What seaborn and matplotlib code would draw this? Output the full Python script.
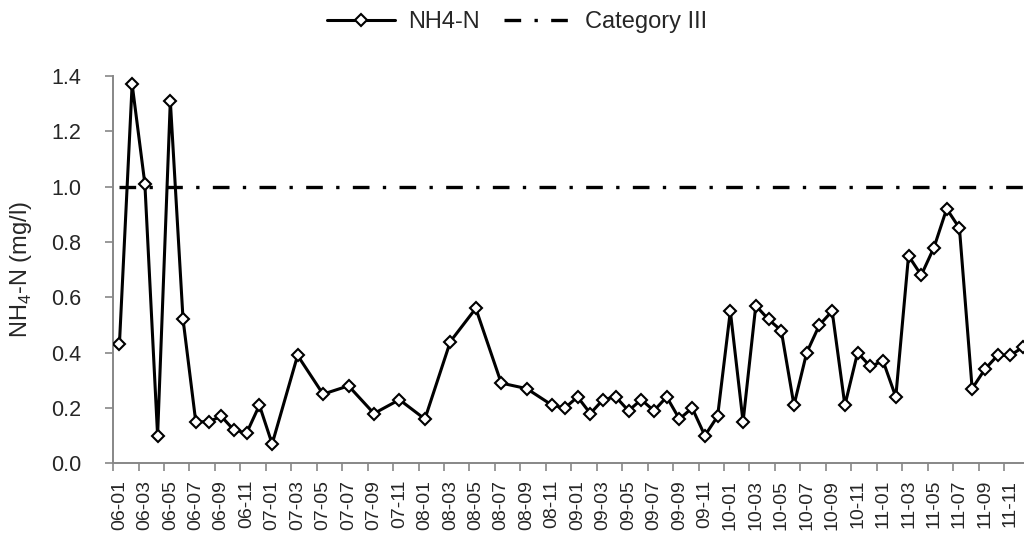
import matplotlib
matplotlib.use("Agg")
import matplotlib.pyplot as plt
import seaborn as sns
import pandas as pd

# Monthly category axis (06-01 ... 11-12)
months = [f"{yy:02d}-{mm:02d}" for yy in range(6, 12) for mm in range(1, 13)]

sample_months = [
    "06-01", "06-02", "06-03", "06-04", "06-05", "06-06", "06-07", "06-08",
    "06-09", "06-10", "06-11", "06-12",
    "07-01", "07-03", "07-05", "07-07", "07-09", "07-11",
    "08-01", "08-03", "08-05", "08-07", "08-09", "08-11", "08-12",
    "09-01", "09-02", "09-03", "09-04", "09-05", "09-06", "09-07", "09-08",
    "09-09", "09-10", "09-11", "09-12",
    "10-01", "10-02", "10-03", "10-04", "10-05", "10-06", "10-07", "10-08",
    "10-09", "10-10", "10-11", "10-12",
    "11-01", "11-02", "11-03", "11-04", "11-05", "11-06", "11-07", "11-08",
    "11-09", "11-10", "11-11", "11-12",
]
nh4_values = [
    0.43, 1.37, 1.01, 0.10, 1.31, 0.52, 0.15, 0.15, 0.17, 0.12, 0.11, 0.21,
    0.07, 0.39, 0.25, 0.28, 0.18, 0.23,
    0.16, 0.44, 0.56, 0.29, 0.27, 0.21, 0.20,
    0.24, 0.18, 0.23, 0.24, 0.19, 0.23, 0.19, 0.24, 0.16, 0.20, 0.10, 0.17,
    0.55, 0.15, 0.57, 0.52, 0.48, 0.21, 0.40, 0.50, 0.55, 0.21, 0.40, 0.35,
    0.37, 0.24, 0.75, 0.68, 0.78, 0.92, 0.85, 0.27, 0.34, 0.39, 0.39, 0.42,
]
category_iii_limit = 1.0
y_ticks = [0.0, 0.2, 0.4, 0.6, 0.8, 1.0, 1.2, 1.4]

sns.set_theme(style="white")
plt.rcParams["font.family"] = ["Liberation Sans", "DejaVu Sans"]
plt.rcParams["mathtext.fontset"] = "custom"
plt.rcParams["mathtext.rm"] = "Liberation Sans"

FS_X = 14
FS_Y = 15.5
FS_T = 17
GRAY = "#878787"

df = pd.DataFrame({
    "pos": [months.index(m) for m in sample_months],
    "val": nh4_values,
})
df_lim = pd.DataFrame({
    "pos": list(range(len(months))),
    "val": [category_iii_limit] * len(months),
})

fig = plt.figure(figsize=(10.24, 5.35), dpi=100)
ax = fig.add_axes([0.1104, 0.134, 0.8949, 0.724])

sns.lineplot(data=df, x="pos", y="val", ax=ax, color="black", linewidth=2.2,
             marker="D", markersize=6.5, markerfacecolor="white",
             markeredgecolor="black", markeredgewidth=1.5,
             estimator=None, label="NH4-N", zorder=3)
sns.lineplot(data=df_lim, x="pos", y="val", ax=ax, color="black",
             linewidth=2.4, linestyle=(0, (5, 4, 1, 4)),
             estimator=None, label="Category III", zorder=2)

ax.set_xlim(-0.5, len(months) - 0.5)
ax.set_ylim(0, 1.4)
ax.set_yticks(y_ticks)
ax.set_yticklabels([f"{v:.1f}" for v in y_ticks], fontsize=FS_Y)

ax.set_xticks(list(range(0, len(months), 2)))
ax.set_xticklabels(months[::2], rotation=90, fontsize=FS_X)
ax.set_xticks([i - 0.5 for i in range(0, len(months) + 1, 2)], minor=True)
ax.tick_params(axis="x", which="major", length=0, pad=12)
ax.tick_params(axis="x", which="minor", length=6, width=1.2, color=GRAY,
               direction="out", bottom=True)
ax.tick_params(axis="y", which="major", length=6, width=1.2, color=GRAY,
               direction="out", pad=17, left=True)

for s in ["top", "right"]:
    ax.spines[s].set_visible(False)
for s in ["left", "bottom"]:
    ax.spines[s].set_color(GRAY)
    ax.spines[s].set_linewidth(1.4)

ax.set_xlabel("")
ax.set_ylabel("NH$_{\\mathregular{4}}$-N (mg/l)", fontsize=FS_T)
ax.yaxis.set_label_coords(-0.0862, 0.5)
ax.grid(False)

ax.get_legend().remove()
handles, labels = ax.get_legend_handles_labels()
fig.legend(handles, labels, loc="center", bbox_to_anchor=(517 / 1024, 1 - 22 / 535),
           ncol=2, frameon=False, fontsize=FS_T, handlelength=2.9,
           handletextpad=0.55, columnspacing=1.0)

fig.savefig("out.png", dpi=100)
